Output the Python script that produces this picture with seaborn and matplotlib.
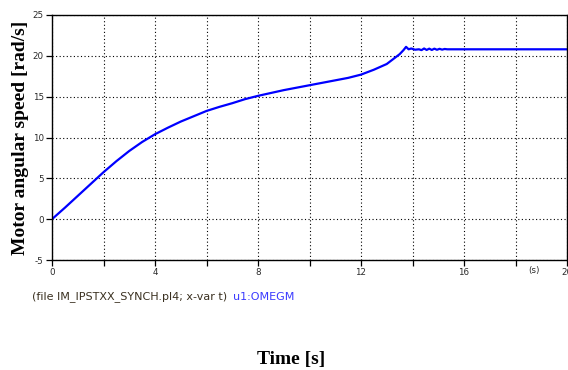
import matplotlib
matplotlib.use("Agg")
import matplotlib.pyplot as plt
import matplotlib.transforms as mtrans
import seaborn as sns
import pandas as pd

# ---- data ----
time_s = [0, 0.5, 1, 1.5, 2, 2.5, 3, 3.5, 4, 4.5, 5, 5.5, 6, 6.5, 7, 7.5, 8,
          8.5, 9, 9.5, 10, 10.5, 11, 11.5, 12, 12.5, 13, 13.25, 13.5, 13.65,
          13.75, 13.85, 13.95, 14.1, 14.25, 14.35, 14.45, 14.55, 14.65, 14.75,
          14.85, 14.95, 15.05, 15.15, 15.25, 15.35, 20]
omega = [0, 1.4, 2.85, 4.3, 5.75, 7.1, 8.35, 9.45, 10.4, 11.2, 11.95, 12.6,
         13.25, 13.75, 14.2, 14.7, 15.1, 15.45, 15.8, 16.1, 16.4, 16.7, 17.0,
         17.3, 17.7, 18.3, 19.0, 19.6, 20.2, 20.7, 21.1, 20.8, 20.9, 20.75,
         20.8, 20.7, 20.9, 20.72, 20.88, 20.72, 20.88, 20.74, 20.86, 20.76,
         20.84, 20.8, 20.8]

x_ticks = [0, 2, 4, 6, 8, 10, 12, 14, 16, 18, 20]
x_tick_labels = ["0", "", "4", "", "8", "", "12", "", "16", "", "20"]
y_ticks = [-5, 0, 5, 10, 15, 20, 25]
y_tick_labels = ["-5", "0", "5", "10", "15", "20", "25"]

ylabel = "Motor angular speed [rad/s]"
xlabel = "Time [s]"
footer_file = "(file IM_IPSTXX_SYNCH.pl4; x-var t)"
footer_var = "u1:OMEGM"
unit_label = "(s)"

df = pd.DataFrame({"t": time_s, "omega": omega})

sns.set_theme(style="ticks")
plt.rcParams["font.family"] = ["DejaVu Sans"]

W, H = 568, 370
fig = plt.figure(figsize=(W / 100, H / 100), dpi=100)
ax = fig.add_axes([52 / W, 1 - 260 / H, (567 - 52) / W, (260 - 15) / H])

sns.lineplot(data=df, x="t", y="omega", ax=ax, color="#0000FF",
             linewidth=1.6, estimator=None, sort=False)

ax.set_xlim(0, 20)
ax.set_ylim(-5, 25)
ax.set_xticks(x_ticks)
ax.set_xticklabels(x_tick_labels)
ax.set_yticks(y_ticks)
ax.set_yticklabels(y_tick_labels)

tick_color = "#2a2a2a"
ax.tick_params(axis="both", direction="out", length=4, width=0.9,
               colors="#000000", labelcolor=tick_color, labelsize=6.3, pad=2)

ax.grid(True, color="black", linestyle=(0, (1, 2.2)), linewidth=0.8)
for s in ax.spines.values():
    s.set_color("black")
    s.set_linewidth(1.0)
    s.set_visible(True)

# axis titles
ax.set_ylabel(ylabel, family="Liberation Serif", fontweight="bold",
              fontsize=14, color="black")
ax.yaxis.set_label_coords(-0.045, 0.5)
ax.set_xlabel(xlabel, family="Liberation Serif", fontweight="bold",
              fontsize=14, color="black")
ax.xaxis.set_label_coords(0.464, -0.37)

# unit marker on the x axis
trans = mtrans.blended_transform_factory(ax.transData, ax.transAxes)
ax.text(18.7, -0.025, unit_label, transform=trans, ha="center", va="top",
        fontsize=6.3, color=tick_color)

# footer
fig.text(32 / W, 1 - 297 / H, footer_file, fontsize=8, color="#3a3020",
         va="center", ha="left")
fig.text(233 / W, 1 - 297 / H, footer_var, fontsize=8, color="#3a3aff",
         va="center", ha="left")

fig.savefig("out.png", dpi=100, facecolor="white")
